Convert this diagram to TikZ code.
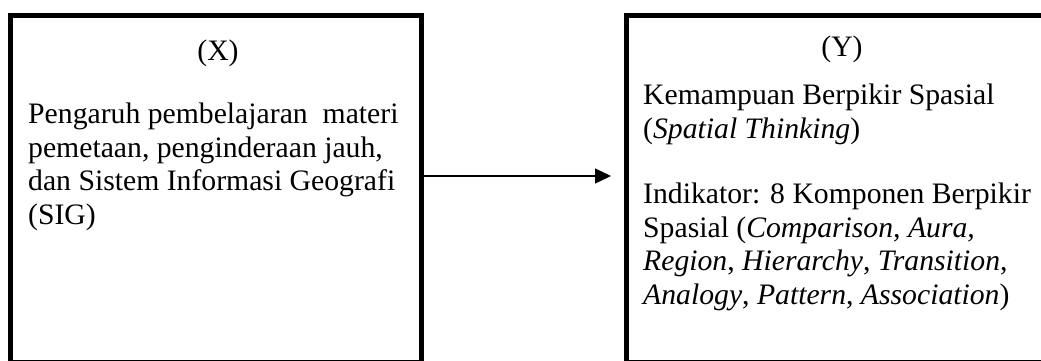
\documentclass[tikz,border=0pt]{standalone}
\usepackage{fontspec}
\setmainfont{Liberation Serif}
\usetikzlibrary{arrows.meta}
\begin{document}
\begin{tikzpicture}[x=1pt,y=-1pt,
  box/.style={draw=black,line width=5pt,minimum width=#1,inner sep=0pt,outer sep=0pt},
  txt/.style={anchor=base west,inner sep=0pt,align=left,font=\fontsize{29.7}{33.5}\selectfont},
  ttl/.style={anchor=base,inner sep=0pt,font=\fontsize{29.7}{33.5}\selectfont},
  link/.style={line width=1.3pt,-{Triangle[length=16pt,width=15pt]}}]
\useasboundingbox (0,0) rectangle (1041,360);
\clip (0,0) rectangle (1041,360);
\node[box=411pt,minimum height=346.5pt] (L) at (216,188.75) {};
\node[box=419.5pt,minimum height=346.5pt] (R) at (836.25,188.75) {};
\node[ttl] (X) at (218,60) {(X)};
\node[txt] (Ltext) at (28,224) {Pengaruh pembelajaran\ \ materi\\pemetaan, penginderaan jauh,\\dan Sistem Informasi Geografi\\(SIG)};
\node[ttl] (Y) at (842,56) {(Y)};
\node[txt] (Rtext1) at (643,138) {Kemampuan Berpikir Spasial\\(\textit{Spatial Thinking})};
\node[txt] (Rtext2) at (643,304) {Indikator: 8 Komponen Berpikir\\Spasial (\textit{Comparison, Aura,}\\\textit{Region}, \textit{Hierarchy}, \textit{Transition},\\\textit{Analogy}, \textit{Pattern}, \textit{Association})};
\coordinate (tip) at (611,176);
\draw[link] (L.east |- tip) -- (tip);
\end{tikzpicture}
\end{document}
